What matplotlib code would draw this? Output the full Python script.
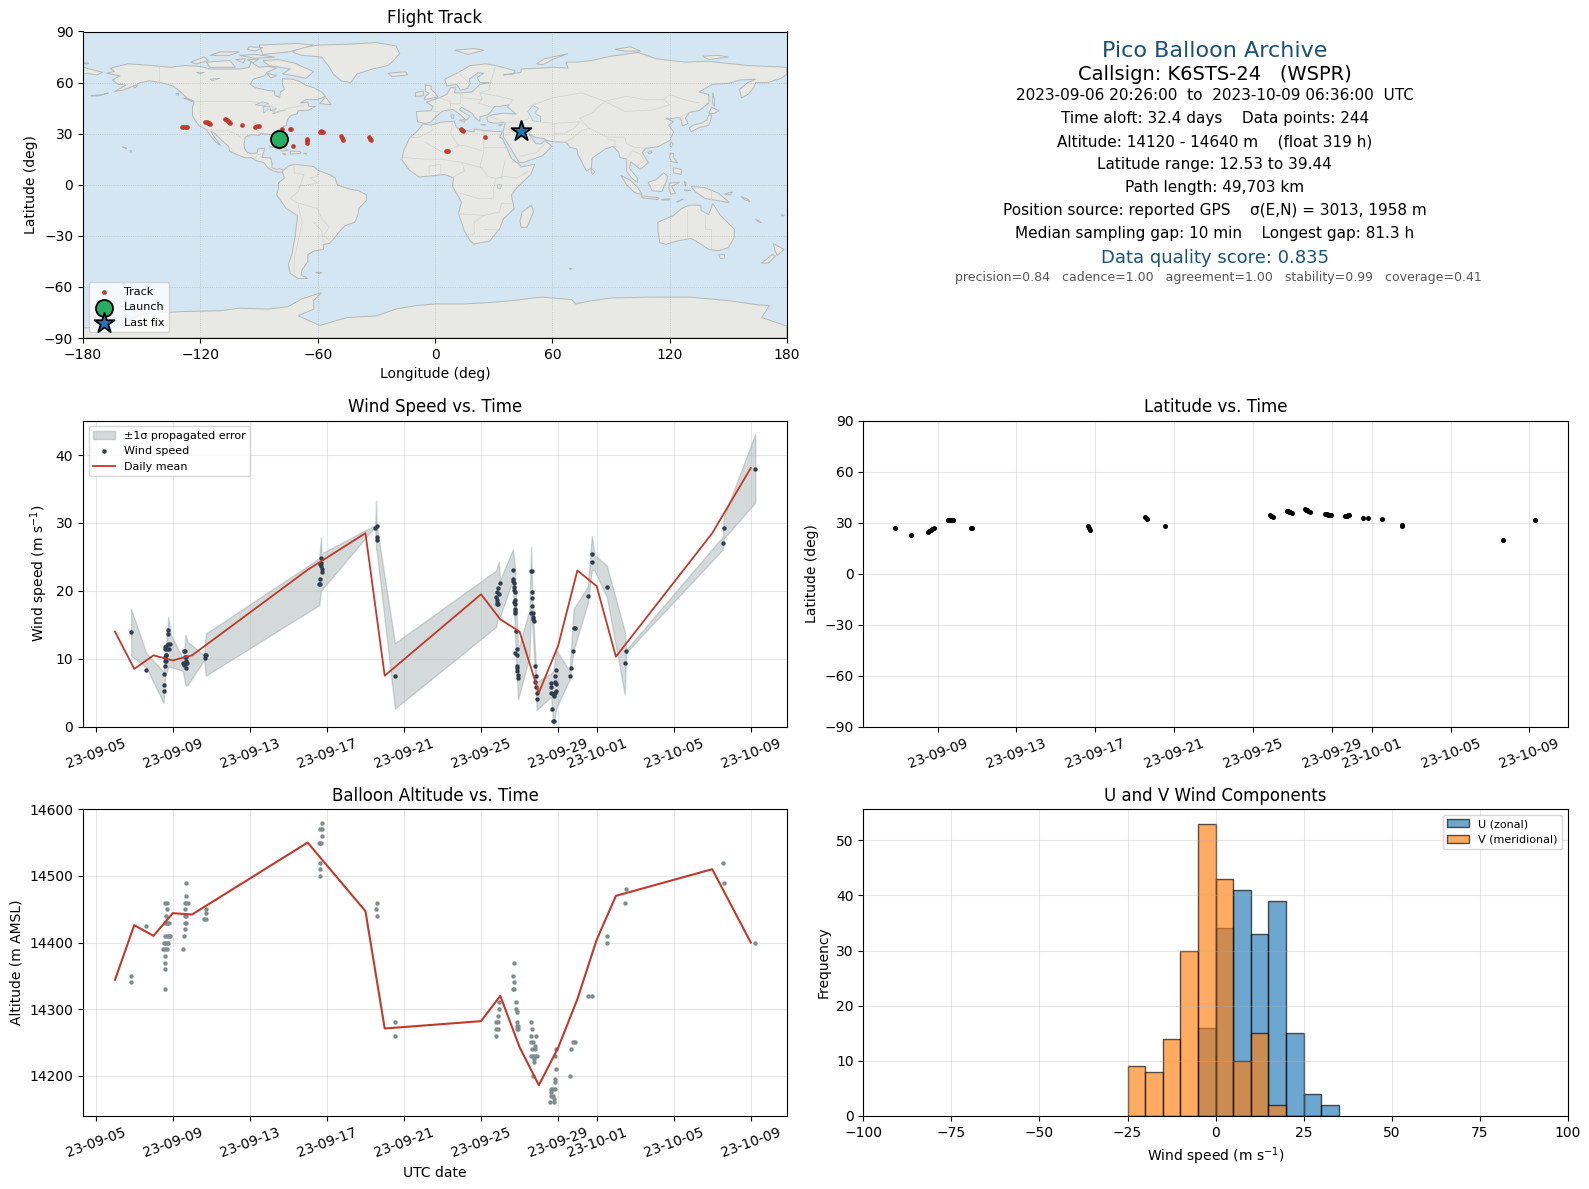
import datetime
import numpy as np
import matplotlib
matplotlib.use("Agg")
import matplotlib.pyplot as plt
import matplotlib.dates as mdates

# FLIGHT DATA: days are counted from 2023-09-05 00:00 UTC
wind_day = [1.85, 2.63, 3.52, 3.52, 3.57, 3.62, 3.62, 3.62, 3.64, 3.67, 3.60, 3.60, 3.67, 3.72, 3.81, 3.77, 3.84, 3.77, 3.77, 3.67,
            4.52, 4.57, 4.66, 4.61, 4.68, 4.64, 4.71, 4.76, 4.71, 4.68, 4.59, 5.65, 5.68, 5.73,
            11.58, 11.64, 11.62, 11.72, 11.72, 11.69, 11.69, 11.69, 11.65, 14.51, 14.58, 14.58, 14.58, 15.52,
            20.81, 20.85, 20.90, 20.95, 20.80, 20.83, 20.90, 20.97, 20.83,
            21.65, 21.66, 21.68, 21.70, 21.71, 21.70, 21.75, 21.75, 21.73, 21.77, 21.77, 21.78, 21.77,
            21.82, 21.85, 21.78, 21.87, 21.85, 21.85, 21.85, 21.90, 21.90,
            22.58, 22.65, 22.63, 22.63, 22.63, 22.60, 22.68, 22.68, 22.72, 22.75,
            22.79, 22.86, 22.82, 22.86, 22.91, 22.89,
            23.62, 23.62, 23.64, 23.72, 23.81, 23.86, 23.90, 23.83, 23.90, 23.86, 23.88, 23.67, 23.72, 23.79,
            24.61, 24.66, 24.76, 24.81, 24.88, 25.54, 25.75, 25.75, 26.53, 27.46, 27.52, 32.55, 32.61, 34.22]
wind_speed = [13.9, 8.4, 5.2, 6.2, 7.7, 9.0, 9.6, 10.3, 10.6, 10.5, 11.4, 11.8, 11.9, 11.4, 11.4, 12.1, 12.1, 13.6, 14.2, 9.7,
              9.3, 11.2, 11.1, 10.2, 10.3, 9.3, 9.3, 9.3, 8.6, 9.7, 9.1, 10.1, 10.5, 10.5,
              21.0, 21.0, 21.8, 22.8, 23.2, 23.7, 24.1, 24.9, 23.9, 29.3, 29.6, 28.0, 27.5, 7.4,
              18.2, 18.0, 18.0, 19.5, 19.1, 19.9, 20.4, 21.1, 18.6,
              23.0, 21.8, 21.4, 21.1, 20.6, 20.1, 19.8, 18.7, 18.3, 18.1, 17.4, 17.1, 16.8,
              14.1, 11.5, 10.8, 10.5, 8.9, 8.6, 8.2, 7.6, 7.1,
              22.9, 22.9, 19.8, 19.0, 17.7, 16.8, 16.8, 16.2, 15.8, 15.5,
              9.0, 7.4, 6.6, 5.9, 4.9, 4.0,
              6.4, 5.8, 4.9, 4.8, 4.5, 4.9, 5.2, 6.6, 6.3, 7.4, 8.3, 2.6, 0.8, 0.8,
              7.5, 8.6, 11.1, 14.6, 14.6, 19.3, 24.3, 25.5, 20.5, 9.3, 11.1, 27.0, 29.3, 38.0]

band_day = [1.84, 2.63, 3.52, 3.60, 3.77, 3.90, 4.52, 4.60, 4.66, 4.76, 5.63, 5.71, 11.60, 11.69, 11.72,
            14.51, 14.55, 14.58, 15.53, 20.78, 20.92, 20.99, 21.65, 21.75, 21.92, 22.51, 22.60, 22.68,
            22.89, 23.64, 23.76, 23.90, 24.59, 24.81, 25.54, 25.75, 25.89, 26.53, 27.46, 27.53, 32.55, 32.60, 34.23]
band_high = [17.3, 10.8, 8.1, 10.1, 16.2, 13.5, 10.1, 11.3, 13.5, 12.5, 10.5, 13.7, 24.8, 27.9, 25.5,
             29.7, 33.3, 29.7, 12.3, 23.0, 24.3, 21.6, 26.1, 23.8, 11.3, 17.2, 26.5, 17.2,
             6.6, 7.85, 8.3, 11.3, 8.2, 17.4, 20.6, 28.1, 25.3, 23.7, 14.0, 11.3, 28.0, 30.9, 43.1]
band_low = [10.45, 8.7, 3.5, 7.4, 8.8, 8.8, 8.2, 7.0, 6.1, 6.1, 9.8, 7.5, 17.9, 20.1, 20.1,
            29.5, 26.0, 26.0, 2.65, 14.7, 16.7, 16.2, 21.6, 14.2, 4.0, 10.3, 17.2, 14.2,
            2.45, 4.4, 0.25, 2.7, 6.9, 11.3, 18.2, 23.1, 23.0, 19.1, 4.7, 10.9, 26.1, 27.7, 33.0]

daily_day = [1, 2, 3, 4, 5, 11, 14, 15, 20, 21, 22, 23, 24, 25, 26, 27, 32, 34]
daily_wind = [14.0, 8.5, 10.5, 9.75, 10.5, 23.1, 28.5, 7.5, 19.5, 15.8, 14.0, 5.0, 11.9, 23.0, 20.7, 10.3, 28.5, 38.1]
daily_alt = [14344, 14426, 14410, 14444, 14442, 14550, 14447, 14271, 14282, 14320, 14243, 14186, 14242, 14315, 14404, 14470, 14510, 14400]

alt_day = [1.85, 1.85, 2.63,
           3.62, 3.68, 3.70, 3.65, 3.70, 3.62, 3.70, 3.80, 3.85, 3.60, 3.70, 3.80, 3.52, 3.60, 3.72, 3.77, 3.50, 3.60, 3.70, 3.62, 3.62, 3.62, 3.62,
           4.71, 4.68, 4.61, 4.68, 4.78, 4.66, 4.61, 4.71, 4.61, 4.71, 4.61, 4.57, 4.52,
           5.75, 5.70, 5.64, 5.71,
           11.72, 11.64, 11.72, 11.72, 11.58, 11.64, 11.71, 11.62, 11.62, 11.62,
           14.58, 14.53, 14.58, 15.52, 15.52,
           20.94, 20.94, 20.88, 20.80, 20.90, 20.80, 20.88, 20.80,
           21.70, 21.68, 21.73, 21.65, 21.73, 21.80, 21.80, 21.85, 21.85, 21.85, 21.90, 21.85, 21.90,
           22.58, 22.63, 22.58, 22.84, 22.60, 22.68, 22.63, 22.80, 22.80, 22.60, 22.68, 22.80, 22.89, 22.75, 22.75, 22.72,
           23.90, 23.86, 23.88, 23.86, 23.84, 23.86, 23.62, 23.72, 23.62, 23.62, 23.74, 23.60, 23.81, 23.79,
           24.79, 24.90, 24.66, 24.61, 25.54, 25.75, 26.53, 26.53, 27.46, 27.52, 32.57, 32.61, 34.22]
alt_m = [14350, 14340, 14425,
         14460, 14460, 14450, 14440, 14430, 14430, 14430, 14430, 14410, 14410, 14410, 14410, 14400, 14400, 14400, 14400, 14390, 14390, 14390, 14380, 14370, 14360, 14330,
         14490, 14470, 14460, 14460, 14460, 14450, 14440, 14440, 14430, 14430, 14420, 14410, 14390,
         14450, 14445, 14435, 14435,
         14580, 14570, 14570, 14560, 14550, 14550, 14550, 14520, 14510, 14500,
         14460, 14450, 14440, 14280, 14260,
         14310, 14300, 14290, 14280, 14280, 14270, 14270, 14260,
         14370, 14350, 14340, 14330, 14330, 14310, 14300, 14295, 14280, 14275, 14275, 14270, 14270,
         14280, 14270, 14260, 14260, 14250, 14250, 14240, 14240, 14245, 14230, 14230, 14230, 14230, 14225, 14220, 14200,
         14240, 14230, 14210, 14195, 14190, 14180, 14180, 14180, 14175, 14170, 14170, 14160, 14165, 14160,
         14250, 14250, 14240, 14200, 14320, 14320, 14410, 14400, 14460, 14480, 14520, 14490, 14400]

lat_day = [1.85, 2.66, 3.52, 3.59, 3.66, 3.73, 3.82, 4.54, 4.60, 4.66, 4.72, 4.77, 5.67, 5.76,
           11.60, 11.67, 11.74, 14.52, 14.59, 15.54, 20.83, 20.88, 20.92, 20.99, 21.69, 21.75, 21.80, 21.87, 21.94,
           22.62, 22.68, 22.73, 22.80, 22.87, 23.66, 23.72, 23.77, 23.85, 23.93, 24.66, 24.72, 24.77, 24.82, 24.86,
           25.58, 25.81, 26.53, 27.53, 27.55, 32.64, 34.29]
lat_deg = [26.5, 22.4, 24.5, 25.1, 25.7, 26.3, 26.9, 31.2, 31.2, 31.2, 31.2, 31.2, 26.5, 26.5,
           27.8, 26.9, 25.5, 33.1, 32.0, 28.2, 34.3, 34.1, 33.7, 33.3, 36.7, 36.6, 36.3, 36.0, 35.7,
           37.8, 37.5, 37.1, 36.6, 36.1, 34.9, 34.8, 34.7, 34.7, 34.7, 34.1, 34.1, 34.1, 34.4, 34.7,
           32.9, 32.4, 31.8, 28.8, 28.0, 20.0, 31.4]

track_lon = [-129.5, -128.5, -127.5, -126.6, -117.4, -116.8, -116.2, -115.6, -115.0, -107.2, -106.5, -105.8, -105.3, -104.8,
             -98.8, -92.0, -91.0, -89.9, -78.0, -74.4, -73.4, -72.7, -65.7, -65.7, -65.6, -65.5, -58.9, -58.2, -57.7, -57.2,
             -48.0, -47.6, -47.3, -33.6, -33.2, -32.9, 5.8, 6.8, 13.3, 13.9, 14.5, 25.4]
track_lat = [34.1, 34.1, 34.1, 34.1, 37.0, 36.7, 36.4, 36.0, 35.6, 38.4, 38.0, 37.6, 37.0, 36.2,
             35.0, 34.1, 34.4, 34.6, 32.9, 32.9, 32.9, 22.9, 27.0, 26.2, 25.4, 24.7, 30.9, 31.5, 30.9, 30.9,
             28.6, 27.5, 26.4, 28.0, 27.0, 26.0, 20.0, 20.0, 33.0, 32.4, 31.7, 28.2]
launch_lon, launch_lat = -80.0, 26.8
last_lon, last_lat = 44.2, 31.7

hist_edges = [-25, -20, -15, -10, -5, 0, 5, 10, 15, 20, 25, 30, 35]
u_counts = [0, 0, 0, 0, 16, 34, 41, 33, 39, 15, 4, 2]
v_counts = [9, 8, 14, 30, 53, 43, 10, 15, 2, 0, 0, 0]

# MAP OUTLINES (lon, lat), rough coastlines
north_america = [(-168,65.5),(-164,66.5),(-166,68.5),(-157,71),(-150,70.5),(-141,69.6),(-135,69),(-128,70),(-120,69.5),(-115,68),
    (-108,68),(-100,68),(-95,69),(-94,72),(-90,69),(-85,69.5),(-81,68.5),(-86,66),(-87,64),(-93,62),(-94.5,59),(-92,57),(-85,55.3),
    (-82,55),(-82,52.5),(-79.5,51.3),(-79,54.5),(-77,56),(-78,59),(-78,62.3),(-73,62),(-70,61),(-66,58.5),(-62,57),(-58,54.5),(-56,52),
    (-60,50),(-66,50),(-69,48),(-65,48.5),(-64.5,46),(-61,46),(-65,43.7),(-70,43.5),(-70.5,41.7),(-74,40.5),(-75.5,38),(-76,35),(-78,33.8),
    (-81,31.5),(-80,27),(-80.5,25.2),(-82,26.5),(-83,29),(-85,29.7),(-89,30),(-90,29),(-94,29.5),(-97,28),(-97.7,24),(-97.5,21.5),(-96,19),
    (-94,18.2),(-91,18.7),(-90.5,21),(-87,21.5),(-88,18),(-88.5,16),(-84,15.8),(-83.3,12),(-83.5,10),(-81,9),(-79.5,9.5),(-77.5,8.5),
    (-78,7.5),(-80,7.3),(-83,8.3),(-85.5,10),(-87.5,13),(-91,14),(-94,16),(-97,15.8),(-101,17.5),(-105,19.8),(-105.5,22.5),(-109,26),
    (-112.5,30),(-114.7,31.5),(-112.5,27.5),(-109.5,23),(-112,25),(-115,29),(-117,32.5),(-120.5,34.5),(-122.5,37.5),(-124,40.5),(-124,46),
    (-123,49),(-127,51),(-130,54.5),(-134,58),(-140,60),(-146,61),(-151,60),(-154,58),(-160,55.5),(-164,54.7),(-158,58.5),(-162,59),
    (-165,61.5),(-161,64),(-168,65.5)]
south_america = [(-77.5,8.5),(-75,11),(-72,12),(-68,11.5),(-62,10.7),(-60,8.5),(-54,6),(-51,4),(-50,0),(-44,-2.5),(-39,-3.5),(-35,-6),
    (-35,-9),(-39,-14),(-39.5,-18),(-41,-22),(-46,-24),(-48.5,-27),(-52,-32),(-54,-34.5),(-57,-35),(-57,-38),(-62,-39),(-65,-41),(-65,-45),
    (-68,-50),(-68.5,-53),(-65,-55),(-70,-55),(-74,-52),(-75,-47),(-73,-40),(-71.5,-30),(-70.3,-18),(-76,-14),(-81,-6),(-80,-2),(-80,1),
    (-77,4),(-78,7.5),(-77.5,8.5)]
africa = [(-6,35.8),(-2,35),(3,36.8),(10,37.2),(11,33.5),(15,32),(20,31),(20,32.8),(25,31.8),(32,31.2),(34.5,31.2),(33,28),(34.5,27),(37,21),
    (39,15.5),(43,12),(44,10.5),(51,12),(49,6),(42,-1.5),(39,-6),(40.5,-14),(35,-20),(33,-26),(28,-33),(20,-34.8),(18,-33),(15,-27),(12,-17),
    (13.5,-10),(9,-1),(9.5,4),(5,6),(-4,5),(-8,4.5),(-13,8.5),(-17,14.7),(-16,20),(-13,27.5),(-9.5,31),(-6,35.8)]
eurasia = [(-9,37),(-9.5,43),(-2,43.5),(-1,46),(-4.5,48.5),(2,51),(6,53),(8,57),(10.5,57),(10,54),(14,54),(19,54.5),(23,59),(29,60),(23,60),
    (21.5,63),(25,65.5),(22,65.8),(17.5,62),(18,59.5),(16.5,56.5),(13,55.5),(11,59),(6,58),(5,62),(12,66),(18,70),(26,71),(31,70),(41,67),
    (40,65),(35,64.5),(44,66),(44,68),(54,68.5),(60,69),(68,68.5),(67,72),(73,72),(80,73),(90,75.5),(104,77.7),(113,74),(128,72),(140,72.5),
    (160,70),(170,69.5),(180,69),(180,65),(177,62.5),(170,60),(164,60),(163,57),(160,53),(156.7,51),(155.7,56),(160,60),(164,62),(156,61.5),
    (150,59.5),(142,59),(135,54.5),(140,53),(140,48),(135,43.5),(130,42.5),(128,39),(129.5,36),(126.5,34.5),(126,37.5),(125,39.5),(121.5,39),
    (118,39),(122,37),(119.5,35),(122,31),(120,26),(114,22.3),(108,21.5),(106,19),(109,13),(105,9),(103,11),(100,13.5),(99.5,9.5),(103.5,4),
    (103.5,1.3),(100.5,4),(98,8),(98,15),(94.5,16),(94,19),(91,22.5),(87,21),(80.3,15.5),(80,10),(77.5,8),(73,18),(72.5,21),(69,22),(67,25),
    (61,25.2),(57,26),(56,27),(51,28),(48,30),(50,26.5),(51.5,24.2),(54,24),(56.3,26),(59.8,22.5),(55,17),(45,13),(43,13),(39,21),(35,28),
    (34.8,31),(36,36.5),(30,36.2),(27,37),(26.5,39.5),(29,41),(35,42),(41.5,41.5),(39,44),(37,45.5),(38,47),(33,46),(30.5,46),(28,42),(26,40.7),
    (23,40),(23,37),(20,40),(19,42),(13.5,45.5),(12.5,44),(18,40),(16,38),(12,42),(9,44.3),(4,43.3),(0,39.5),(-2,37),(-5,36),(-9,37)]
antarctica = [(-180,-84),(-165,-84),(-150,-76),(-130,-74.5),(-110,-74),(-100,-72.5),(-85,-73),(-75,-71.5),(-68,-67),(-58,-63.3),(-62,-68),
    (-62,-73),(-70,-77),(-59,-82.6),(-45,-78),(-30,-77),(-20,-73),(-10,-71),(0,-70),(15,-70),(30,-69),(40,-68),(50,-66.5),(55,-66),(70,-67.5),
    (72,-70),(78,-68.5),(90,-66.5),(110,-66),(130,-66),(150,-68),(165,-70.5),(171,-71),(167,-78),(180,-83),(180,-90),(-180,-90)]
greenland = [(-73,78),(-68,80.5),(-60,82),(-45,82.5),(-30,83.5),(-20,81.5),(-18,77),(-22,72),(-24,70),(-32,68),(-40,65),(-43,60),(-48,61),
    (-52,65),(-54,69),(-58,75),(-68,76),(-73,78)]
australia = [(114,-22),(122,-18),(126,-14),(130,-12),(136,-12),(136,-15),(140,-17.5),(142,-11),(146,-18),(153,-26),(153,-31),(150,-37),(145,-38.7),
    (140,-38),(136,-35),(131,-31.5),(124,-33),(118,-35),(115,-34),(114,-27),(114,-22)]
islands = [
    [(-80,73.5),(-72,71.5),(-67,69),(-62,66.5),(-66,62.5),(-72,64),(-78,65),(-74,68),(-85,70),(-88,73),(-80,73.5)],
    [(-117,72),(-105,73),(-102,69),(-115,69),(-117,72)],
    [(-90,82),(-70,83),(-62,82),(-75,78),(-88,76.5),(-90,82)],
    [(-125,72),(-118,75),(-116,73),(-122,71),(-125,72)],
    [(-100,76),(-92,76.5),(-82,75),(-92,74.3),(-100,76)],
    [(-110,78),(-100,78),(-105,76),(-115,76),(-110,78)],
    [(-96,73.5),(-90,73.8),(-93,71.8),(-96,73.5)],
    [(-102,73.5),(-97,74),(-98,71.5),(-102,73.5)],
    [(-95,81),(-88,80.5),(-92,78.5),(-96,79.5),(-95,81)],
    [(-86,65.5),(-81,64),(-84,62.7),(-86,65.5)],
    [(-59,47.7),(-56,51.5),(-53,47),(-59,47.7)],
    [(-85,22),(-80,23),(-75,20.2),(-78,19.9),(-82,22),(-85,22)],
    [(-74,19.8),(-69,19.5),(-68.5,18.4),(-74,18),(-74,19.8)],
    [(-78,18.4),(-76.3,18),(-77.5,17.8),(-78,18.4)],
    [(-67.2,18.5),(-65.6,18.4),(-66,18),(-67.2,18.5)],
    [(-78.5,26.8),(-77,26.5),(-77.8,25),(-78.5,26.8)],
    [(-156,20.2),(-155,19.8),(-155.6,19),(-156,20.2)],
    [(-159.8,22.2),(-157.7,21.5),(-158.2,21.2),(-159.8,22.2)],
    [(-176,52.2),(-170,53),(-167,53.9),(-172,52.2),(-176,52.2)],
    [(-154.5,58),(-152,58.3),(-153.5,56.8),(-154.5,58)],
    [(-133,54),(-131.5,54),(-131.5,52.5),(-133,54)],
    [(-128.5,50.8),(-125,50),(-123.5,48.5),(-128.5,50.8)],
    [(-24,65.5),(-15,66.3),(-14,64.5),(-22,63.5),(-24,65.5)],
    [(-5.5,50),(1.5,51.5),(0,54),(-2,56),(-2,58),(-5,58.5),(-5,55),(-3,53.5),(-5,52),(-5.5,50)],
    [(-10,52),(-6,52.2),(-6,55),(-10,54),(-10,52)],
    [(10,79),(20,80),(25,79),(17,76.5),(10,79)],
    [(52,71),(56,74),(68,77),(60,73.5),(55,70.5),(52,71)],
    [(92,79.5),(100,81),(105,78.5),(97,78.5),(92,79.5)],
    [(137,75.5),(145,76),(150,75),(140,73.5),(137,75.5)],
    [(-180,71.5),(-177,71.5),(-178,70.8),(-180,71.5)],
    [(-180,69),(-175,67.5),(-170,66),(-173,64.5),(-178,65.5),(-180,65)],
    [(142,54),(143,50),(143,46),(142,48),(142,54)],
    [(130,33.5),(131,31.2),(135,33.5),(140,35),(141,38),(141.5,41),(140,41),(139,38),(136,36),(132,35),(130,33.5)],
    [(140,42),(141.5,45.5),(145.3,43.5),(143,42),(140,42)],
    [(120,23),(121,25.2),(121.8,24),(120.8,22),(120,23)],
    [(108.7,19),(110.5,20),(111,19),(109.5,18.2),(108.7,19)],
    [(80,9.5),(81.8,7.5),(80.5,6),(79.8,8),(80,9.5)],
    [(120.3,18.5),(122,18.5),(122,16),(124,13),(121,13.5),(120,16),(120.3,18.5)],
    [(122,10),(126,9),(126,6),(122,7),(122,10)],
    [(95,5.5),(100,2.5),(104,-2),(106,-6),(102,-4.5),(98,0),(95,5.5)],
    [(105.5,-6.5),(114.5,-7.7),(114,-8.7),(106,-7.7),(105.5,-6.5)],
    [(116,-8.5),(120,-8.3),(119.5,-9),(116,-8.9),(116,-8.5)],
    [(123.5,-10.3),(127,-8.4),(125,-9.3),(123.5,-10.3)],
    [(127.5,-3),(130.8,-3.3),(128.5,-3.6),(127.5,-3)],
    [(127.5,2),(128.5,1),(128,-1),(127.5,2)],
    [(109,1.5),(113,3),(117,7),(119,5),(118,1),(116,-4),(111,-3.5),(109,1.5)],
    [(120,1),(125,1.5),(121,-1),(123,-5),(120.5,-5.5),(119.5,-2),(120,1)],
    [(131,-1),(138,-1.7),(145,-5),(150.5,-10.5),(143,-9),(138,-8),(133,-4),(131,-1)],
    [(148,-5.5),(152,-4.2),(151,-6),(148,-5.5)],
    [(156.5,-7),(160,-8.5),(161,-10),(158,-8.5),(156.5,-7)],
    [(164,-20),(167,-22.4),(165,-21.5),(164,-20)],
    [(177.2,-17.5),(178.6,-18),(177.4,-18.3),(177.2,-17.5)],
    [(145,-41),(148,-41),(148,-43),(146,-43.5),(145,-41)],
    [(173,-34.5),(178.5,-38),(175,-41.5),(174,-39),(173,-34.5)],
    [(172.5,-41),(174,-42),(170.5,-46),(167,-46),(172.5,-41)],
    [(49.3,-12),(50.4,-16),(47,-25),(44,-25),(43.5,-21),(44.5,-16),(49.3,-12)],
    [(12.4,38),(15.5,38.2),(15,36.7),(12.4,38)],
    [(8.2,41),(9.7,41),(9.5,39),(8.5,39),(8.2,41)],
    [(23.5,35.5),(26.2,35.2),(24,35),(23.5,35.5)],
    [(32.3,35),(34.5,35.6),(33.5,34.6),(32.3,35)],
    [(-61,-51.5),(-57.8,-51.5),(-59,-52.3),(-61,-51.5)],
    [(68.7,-49),(70,-49.2),(69.3,-49.8),(68.7,-49)],
]
inland_water = [
    [(50,46.5),(53,45),(51,42),(54,40),(54,37),(50,37.5),(49,40),(47.5,43),(50,46.5)],
    [(-92,46.8),(-88,48.8),(-85,47.5),(-87,46.5),(-92,46.8)],
    [(-88,46),(-84.5,46),(-84,43.5),(-81,45),(-82.5,43),(-85.5,44.5),(-87.5,42),(-88,46)],
    [(-83,42),(-79,43),(-76.5,44),(-79.5,43.3),(-83,41.5),(-83,42)],
    [(-122,66),(-118,66),(-120,65),(-122,66)],
    [(-115,62),(-110,62.5),(-114,61),(-115,62)],
    [(32,0),(34,0),(33.5,-2.5),(32,-2),(32,0)],
]
borders = [
    [(-123,49),(-95,49),(-88,48),(-83,46),(-82.5,42.5),(-79,43),(-75,45),(-70,46),(-67,47),(-67,45)],
    [(-141,69.6),(-141,60)],
    [(-117,32.5),(-108,31.5),(-106,31.7),(-101,29.5),(-97.5,26)],
    [(-92,14.5),(-91,17.5),(-89,18)],
    [(-72,12),(-72,7),(-67,6),(-70,-4),(-74,-8),(-70,-11),(-69,-17),(-68,-22),(-70,-33),(-72,-44),(-72,-52)],
    [(-60,8.5),(-60,5),(-64,4),(-60,1),(-70,-1)],
    [(-69,-11),(-60,-14),(-58,-20),(-54,-25),(-57,-30),(-53,-33.5)],
    [(-62,-22),(-58,-27),(-57,-34)],
    [(-2,35),(-1,32),(-8,28),(-13,27.5)],
    [(9,37),(8,30),(12,23),(4,19),(-5,25)],
    [(25,31.5),(25,20),(24,15),(23,11),(27,5),(31,3.5),(35,5),(42,4),(48,8)],
    [(25,22),(36,22)],
    [(12,23),(15,23),(24,20)],
    [(-16,16),(-5,15),(3,15),(14,13),(15,8),(9,4.5)],
    [(3,6),(3,12),(-3,11),(-3,5)],
    [(14,13),(24,10)],
    [(36,15),(35,10),(34,4)],
    [(13,-5),(22,-8),(30,-8),(30,-2),(31,3.5)],
    [(12,-17),(25,-18),(33,-16),(34,-11),(40.5,-11)],
    [(17,-29),(20,-29),(20,-22),(25,-18)],
    [(25,-26),(32,-26)],
    [(-2,43.5),(3,42.5)],
    [(2,51),(8,49),(7.5,47.5),(13,47.5),(13,54)],
    [(14,54),(14,51),(24,50),(23,54),(28,56),(28,60)],
    [(7.5,44),(7.5,47.5)],
    [(12,66),(18,59)],
    [(24,50),(22,48),(29,45.5)],
    [(31,70),(29,62),(28,60)],
    [(23,54),(32,52),(40,50),(38,47)],
    [(48,46),(60,51),(75,54),(87,49),(98,52),(107,50),(117,50),(120,53),(127,50),(135,48)],
    [(87,49),(80,42),(74,39),(79,33),(88,28),(97,28),(98,24),(102,22),(108,21.5)],
    [(87,49),(97,43),(112,44),(120,47),(117,50)],
    [(53,37),(61,36),(61,30),(61,25)],
    [(61,36),(74,37),(71,33),(66,30),(61,30)],
    [(67,25),(71,28),(75,32),(79,33)],
    [(88,27),(92,26),(92,22)],
    [(98,15),(101,20),(105,18),(107,14),(103,11)],
    [(26,41),(36,36.5),(44,37),(48,39)],
    [(44,37),(46,33),(48,30)],
    [(36,33),(39,32),(41,29),(47,29)],
    [(36,29),(40,32)],
    [(56,24),(52,19),(45,17),(43,17)],
    [(125,39.5),(130,42.5)],
    [(141,-3),(141,-9)],
    [(129,-15),(129,-31.5)],
    [(138,-16),(138,-26),(141,-26),(141,-38)],
]

base_day = mdates.date2num(datetime.datetime(2023, 9, 5))

red = "#c0392b"
navy = "#1a5276"
dark = "#2c3e50"
slate = "#7f8c8d"
ocean = "#d4e6f1"
land = "#e8e8e4"


def add_panel(left, right, top, bottom):
    # pixel edges of the panel on the 1589x1189 figure
    return fig.add_axes([left/1589, 1-bottom/1189, (right-left)/1589, (bottom-top)/1189])


def time_axis(ax, first, last):
    loc = mdates.AutoDateLocator()
    ax.xaxis.set_major_locator(loc)
    ax.xaxis.set_major_formatter(mdates.DateFormatter("%y-%m-%d"))
    ax.set_xlim(base_day+first, base_day+last)
    ax.tick_params(axis="x", labelrotation=20)
    ax.grid(alpha=0.3)


fig = plt.figure(figsize=(15.89, 11.89), dpi=100)

# FLIGHT TRACK MAP
ax = add_panel(83, 787, 31.5, 338)
ax.set_facecolor(ocean)
for shape in [north_america, south_america, africa, eurasia, antarctica, greenland, australia] + islands:
    xy = np.array(shape)
    ax.fill(xy[:, 0], xy[:, 1], facecolor=land, edgecolor="#b4b8b8", linewidth=0.7, zorder=1)
for shape in inland_water:
    xy = np.array(shape)
    ax.fill(xy[:, 0], xy[:, 1], facecolor=ocean, edgecolor="#b4b8b8", linewidth=0.5, zorder=1.1)
for line in borders:
    xy = np.array(line)
    ax.plot(xy[:, 0], xy[:, 1], color="#d5d6d3", linewidth=0.6, zorder=1.2)
ax.scatter(track_lon, track_lat, s=11, color=red, linewidths=0, zorder=3, label="Track")
ax.scatter([launch_lon], [launch_lat], s=150, color="#27ae60", edgecolor="k", linewidth=1.3, zorder=4, label="Launch")
ax.scatter([last_lon], [last_lat], s=230, marker="*", color="#1f77b4", edgecolor="k", linewidth=1.3, zorder=4, label="Last fix")
ax.set_xlim(-180, 180)
ax.set_ylim(-90, 90)
ax.set_xticks(np.arange(-180, 181, 60))
ax.set_yticks(np.arange(-90, 91, 30))
ax.grid(color="gray", linestyle=":", linewidth=0.5, alpha=0.5)
ax.set_xlabel("Longitude (deg)")
ax.set_ylabel("Latitude (deg)")
ax.set_title("Flight Track", fontsize=12)
ax.legend(loc="lower left", fontsize=8)

# SUMMARY TEXT
ax = add_panel(863.4, 1567.7, 31.5, 338)
ax.axis("off")
cx = 0.499
ax.text(cx, 0.935, "Pico Balloon Archive", transform=ax.transAxes, ha="center", va="center", fontsize=16, color=navy)
ax.text(cx, 0.860, "Callsign: K6STS-24   (WSPR)", transform=ax.transAxes, ha="center", va="center", fontsize=14)
info = ["2023-09-06 20:26:00  to  2023-10-09 06:36:00  UTC",
        "Time aloft: 32.4 days    Data points: 244",
        "Altitude: 14120 - 14640 m    (float 319 h)",
        "Latitude range: 12.53 to 39.44",
        "Path length: 49,703 km",
        "Position source: reported GPS    \u03c3(E,N) = 3013, 1958 m",
        "Median sampling gap: 10 min    Longest gap: 81.3 h"]
info_y = [0.790, 0.716, 0.641, 0.566, 0.491, 0.417, 0.342]
for y, s in zip(info_y, info):
    ax.text(cx, y, s, transform=ax.transAxes, ha="center", va="center", fontsize=11)
ax.text(cx, 0.261, "Data quality score: 0.835", transform=ax.transAxes, ha="center", va="center", fontsize=13, color=navy)
ax.text(cx+0.005, 0.196, "precision=0.84   cadence=1.00   agreement=1.00   stability=0.99   coverage=0.41",
        transform=ax.transAxes, ha="center", va="center", fontsize=9, color="#555555")

# WIND SPEED VS TIME
ax = add_panel(83, 787, 420.5, 726.6)
ax.fill_between(base_day+np.array(band_day), band_low, band_high, color=slate, alpha=0.33, label="\u00b11\u03c3 propagated error")
ax.scatter(base_day+np.array(wind_day), wind_speed, s=10, color=dark, linewidths=0, zorder=3, label="Wind speed")
ax.plot(base_day+np.array(daily_day), daily_wind, color=red, linewidth=1.3, zorder=4, label="Daily mean")
time_axis(ax, -0.66, 35.88)
ax.set_ylim(0, 45.1)
ax.set_ylabel("Wind speed (m s$^{-1}$)")
ax.set_title("Wind Speed vs. Time", fontsize=12)
ax.legend(loc="upper left", fontsize=8)

# LATITUDE VS TIME
ax = add_panel(863.4, 1567.7, 420.5, 726.6)
ax.scatter(base_day+np.array(lat_day), lat_deg, s=13, color="k", linewidths=0, zorder=3)
time_axis(ax, 0.24, 35.94)
ax.set_ylim(-90, 90)
ax.set_yticks(np.arange(-90, 91, 30))
ax.set_ylabel("Latitude (deg)")
ax.set_title("Latitude vs. Time", fontsize=12)

# ALTITUDE VS TIME
ax = add_panel(83, 787, 809.2, 1115.8)
ax.scatter(base_day+np.array(alt_day), alt_m, s=10, color=slate, linewidths=0, zorder=3)
ax.plot(base_day+np.array(daily_day), daily_alt, color=red, linewidth=1.5, zorder=4)
time_axis(ax, -0.66, 35.88)
ax.set_ylim(14140, 14600)
ax.set_yticks(np.arange(14200, 14601, 100))
ax.set_xlabel("UTC date")
ax.set_ylabel("Altitude (m AMSL)")
ax.set_title("Balloon Altitude vs. Time", fontsize=12)

# U AND V HISTOGRAM
ax = add_panel(863.4, 1567.7, 809.2, 1115.8)
ax.hist(hist_edges[:-1], bins=hist_edges, weights=u_counts, color="tab:blue", alpha=0.65, edgecolor="k", label="U (zonal)")
ax.hist(hist_edges[:-1], bins=hist_edges, weights=v_counts, color="tab:orange", alpha=0.65, edgecolor="k", label="V (meridional)")
ax.set_xlim(-100, 100)
ax.set_ylim(0, 55.65)
ax.grid(alpha=0.3)
ax.set_xlabel("Wind speed (m s$^{-1}$)")
ax.set_ylabel("Frequency")
ax.set_title("U and V Wind Components", fontsize=12)
ax.legend(loc="upper right", fontsize=8)

fig.savefig("out.png", dpi=100)
